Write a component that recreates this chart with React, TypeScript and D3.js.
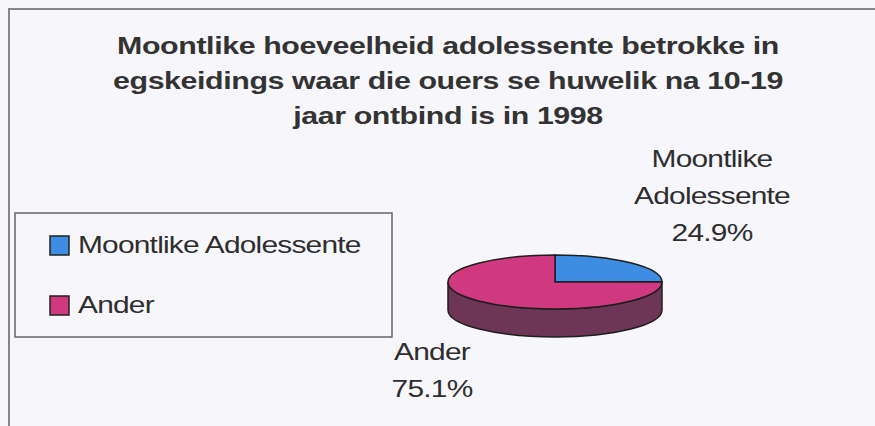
import React from 'react'
import * as d3 from 'd3'

// data
const categories = ['Moontlike Adolessente', 'Ander']
const values = [24.9, 75.1]
const sliceLabels = [['Moontlike', 'Adolessente', '24.9%'], ['Ander', '75.1%']]
const titleLines = [
  'Moontlike hoeveelheid adolessente betrokke in',
  'egskeidings waar die ouers se huwelik na 10-19',
  'jaar ontbind is in 1998',
]

const topColors = ['#3d8de2', '#d0397f']
const sideColors = ['#2c5e9b', '#6d3556']

const width = 875
const height = 426
const font = '"Liberation Sans", Arial, sans-serif'

// pie geometry
const cx = 555
const cy = 282
const rx = 107
const ry = 27
const depth = 28

const App = () => {
  const pie = d3.pie<number>().sort(null).value(d => d)
  const slices = pie(values)
  const arc = d3.arc<d3.PieArcDatum<number>>().innerRadius(0).outerRadius(1)
  const color = d3.scaleOrdinal<string, string>().domain(categories).range(topColors)
  const sideColor = d3.scaleOrdinal<string, string>().domain(categories).range(sideColors)

  // visible front wall of each slice (angles from 12 o'clock, clockwise)
  const d = depth / ry
  const sides = slices.map((s, i) => {
    const a0 = Math.max(s.startAngle, Math.PI / 2)
    const a1 = Math.min(s.endAngle, Math.PI * 1.5)
    if (a1 <= a0) return null
    const p = d3.path()
    p.moveTo(Math.sin(a0), -Math.cos(a0))
    p.arc(0, 0, 1, a0 - Math.PI / 2, a1 - Math.PI / 2)
    p.lineTo(Math.sin(a1), -Math.cos(a1) + d)
    p.arc(0, d, 1, a1 - Math.PI / 2, a0 - Math.PI / 2, true)
    p.closePath()
    return { path: p.toString(), key: categories[i] }
  })

  const titleY = d3.scaleLinear().domain([0, 1]).range([54, 89])
  const labelY = d3.scaleLinear().domain([0, 1]).range([0, 37])
  const labelAnchors = [
    { x: 712, y: 167 },
    { x: 432, y: 360 },
  ]
  const legendY = d3.scaleLinear().domain([0, 1]).range([253, 313])

  return (
    <svg width={width} height={height} style={{ position: 'absolute', left: 0, top: 0 }}>
      <rect x={0} y={0} width={width} height={height} fill="#f7f7fb" />
      <path d={`M9,${height}V9H${width}`} fill="none" stroke="#858585" strokeWidth={2} />

      <g fontFamily={font} fontWeight="bold" fontSize={23} fill="#333" textAnchor="middle" letterSpacing={-0.3}>
        {titleLines.map((t, i) => (
          <text key={i} transform={`translate(448,${titleY(i)}) scale(1.32,1)`}>{t}</text>
        ))}
      </g>

      <rect x={15} y={213} width={377} height={124} fill="none" stroke="#666" strokeWidth={1.5} />
      <g fontFamily={font} fontSize={23} fill="#2e2e2e" letterSpacing={-0.6}>
        {categories.map((c, i) => (
          <g key={c}>
            <rect x={50} y={legendY(i) - 17} width={19} height={19} fill={color(c)} stroke="#222" strokeWidth={1.5} />
            <text transform={`translate(78,${legendY(i)}) scale(1.3,1)`}>{c}</text>
          </g>
        ))}
      </g>

      <g transform={`translate(${cx},${cy}) scale(${rx},${ry})`}>
        {sides.map(s => s && (
          <path key={s.key} d={s.path} fill={sideColor(s.key)} stroke="#1e1e1e" strokeWidth={1.5}
            vectorEffect="non-scaling-stroke" />
        ))}
        {slices.map((s, i) => (
          <path key={categories[i]} d={arc(s) || ''} fill={color(categories[i])} stroke="#1e1e1e"
            strokeWidth={1.5} vectorEffect="non-scaling-stroke" />
        ))}
      </g>

      <g fontFamily={font} fontSize={23} fill="#2e2e2e" textAnchor="middle" letterSpacing={-0.6}>
        {sliceLabels.map((lines, i) => lines.map((t, j) => (
          <text key={`${i}-${j}`}
            transform={`translate(${labelAnchors[i].x},${labelAnchors[i].y + labelY(j)}) scale(1.3,1)`}>
            {t}
          </text>
        )))}
      </g>
    </svg>
  )
}

export default App
